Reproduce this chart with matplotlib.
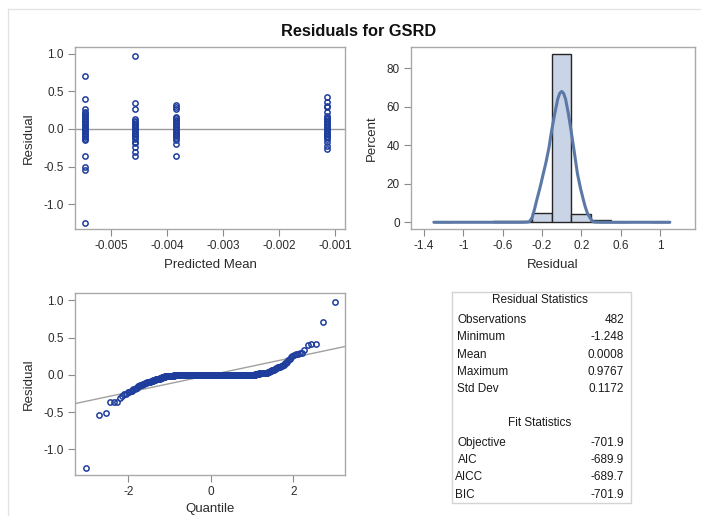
import numpy as np
import matplotlib
matplotlib.use("Agg")
import matplotlib.pyplot as plt
from statistics import NormalDist

plt.rcParams['font.family'] = ['Liberation Sans', 'DejaVu Sans']
plt.rcParams['axes.unicode_minus'] = False

# ---------------- data ----------------
title = "Residuals for GSRD"

# Panel 1: residual vs predicted mean (distinct visible residuals per group)
pred_means = [-0.00546, -0.00457, -0.00384, -0.00114]
resid_g1 = [0.71, 0.40, 0.27, 0.23, 0.21, 0.19, 0.17, 0.15, 0.13, 0.11, 0.09, 0.07,
            0.05, 0.03, 0.01, 0.0, -0.01, -0.03, -0.05, -0.07, -0.09, -0.11, -0.13,
            -0.15, -0.36, -0.51, -0.54, -1.248]
resid_g2 = [0.9767, 0.34, 0.26, 0.13, 0.11, 0.09, 0.07, 0.05, 0.03, 0.01, -0.01,
            -0.03, -0.05, -0.07, -0.09, -0.11, -0.13, -0.17, -0.19, -0.24, -0.30, -0.36]
resid_g3 = [0.32, 0.29, 0.27, 0.16, 0.14, 0.12, 0.10, 0.08, 0.06, 0.04, 0.02, 0.0,
            -0.02, -0.04, -0.06, -0.08, -0.10, -0.12, -0.14, -0.20, -0.36]
resid_g4 = [0.42, 0.36, 0.30, 0.29, 0.23, 0.17, 0.15, 0.13, 0.11, 0.09, 0.07, 0.05,
            0.03, 0.01, -0.01, -0.03, -0.05, -0.07, -0.09, -0.11, -0.13, -0.17,
            -0.22, -0.27]

# Panel 2: histogram (bin centres, percent) and density curve
hist_centers = [-1.2, -0.6, -0.4, -0.2, 0.0, 0.2, 0.4, 0.6, 1.0]
hist_percent = [0.2, 0.4, 0.6, 5.0, 87.5, 4.1, 1.0, 0.2, 0.2]
hist_width = 0.2
dens_x = [-1.3, -0.5, -0.40, -0.35, -0.327, -0.30, -0.287, -0.27, -0.253, -0.22,
          -0.186, -0.16, -0.13, -0.101, -0.07, -0.04, -0.02, 0.0, 0.02, 0.04, 0.07,
          0.095, 0.13, 0.16, 0.19, 0.221, 0.24, 0.262, 0.29, 0.316, 0.34, 0.40, 0.6, 1.1]
dens_y = [0.0, 0.0, 0.0, 0.1, 0.3, 2.5, 4.7, 8.0, 11.6, 18.0,
          25.4, 31.0, 38.5, 47.9, 56.5, 64.0, 67.0, 68.0, 67.0, 64.0, 56.0,
          47.9, 36.0, 25.4, 18.0, 11.6, 8.0, 4.7, 2.2, 0.3, 0.1, 0.0, 0.0, 0.0]

# Panel 3: sorted residual levels and their counts (Q-Q plot)
qq_levels = [-1.248, -0.54, -0.51, -0.36, -0.31, -0.28, -0.26, -0.25, -0.23, -0.21,
             -0.19, -0.17, -0.15, -0.13, -0.12, -0.11, -0.10, -0.09, -0.08, -0.07,
             -0.06, -0.05, -0.04, -0.03, -0.02, -0.01, 0.0, 0.01, 0.02, 0.03, 0.04,
             0.05, 0.06, 0.07, 0.08, 0.09, 0.10, 0.11, 0.12, 0.14, 0.16, 0.18, 0.20,
             0.22, 0.24, 0.26, 0.27, 0.28, 0.29, 0.30, 0.34, 0.40, 0.41, 0.42, 0.71,
             0.9767]
qq_counts = [1, 1, 1, 3, 1, 1, 1, 1, 2, 2,
             2, 2, 2, 3, 3, 3, 3, 3, 4, 4,
             4, 5, 5, 7, 10, 15, 325, 10, 9, 8, 4,
             3, 2, 2, 2, 2, 2, 2, 2, 2, 2, 1, 1,
             1, 1, 1, 1, 2, 1, 1, 1, 1, 1, 1, 1,
             1]

# Statistics table
resid_stat_names = ["Observations", "Minimum", "Mean", "Maximum", "Std Dev"]
resid_stat_values = ["482", "-1.248", "0.0008", "0.9767", "0.1172"]
fit_stat_names = ["Objective", "AIC", "AICC", "BIC"]
fit_stat_values = ["-701.9", "-689.9", "-689.7", "-701.9"]
resid_mean = 0.0008
resid_sd = 0.1172

# ---------------- style ----------------
W, H = 701, 516
DPI = 100
fig = plt.figure(figsize=(W / DPI, H / DPI), dpi=DPI)
fig.patch.set_facecolor('white')

MARK = '#1f3d9c'
FRAME = '#a9a9a9'
TXT = '#2b2b2b'
TICK_FS = 8.5
LAB_FS = 9.5


def px_axes(left, top, right, bottom):
    return fig.add_axes([left / W, 1 - bottom / H, (right - left) / W, (bottom - top) / H])


def style(ax):
    for s in ax.spines.values():
        s.set_color(FRAME)
        s.set_linewidth(1.0)
    ax.tick_params(direction='out', length=5, width=0.8, color='#8a8a8a',
                   labelsize=TICK_FS, labelcolor=TXT, pad=3)


# background frame of the whole graph
bg = fig.add_axes([0, 0, 1, 1], zorder=-5)
bg.set_xlim(0, W)
bg.set_ylim(H, 0)
bg.axis('off')
bg.plot([8, W], [9, 9], color='#e2e2e2', lw=0.9)
bg.plot([8, 8], [9, H], color='#e2e2e2', lw=0.9)

fig.text(359 / W, 1 - 31 / H, title, ha='center', va='center',
         fontsize=11.8, fontweight='bold', color='#111111')

# ---------------- panel 1 ----------------
ax1 = px_axes(75, 47, 345, 229)
style(ax1)
ax1.axhline(0, color='#9a9a9a', lw=1.0, zorder=1)
for xm, vals in zip(pred_means, [resid_g1, resid_g2, resid_g3, resid_g4]):
    ax1.plot([xm] * len(vals), vals, linestyle='none', marker='o', ms=3.8,
             mfc='none', mec=MARK, mew=1.1, zorder=3)
ax1.set_xlim(-0.00564, -0.00082)
ax1.set_ylim(-1.333, 1.093)
ax1.set_xticks([-0.005, -0.004, -0.003, -0.002, -0.001])
ax1.set_xticklabels(['-0.005', '-0.004', '-0.003', '-0.002', '-0.001'])
ax1.set_yticks([-1.0, -0.5, 0.0, 0.5, 1.0])
ax1.set_yticklabels(['-1.0', '-0.5', '0.0', '0.5', '1.0'])
ax1.set_xlabel('Predicted Mean', fontsize=LAB_FS, color=TXT, va='center')
ax1.set_ylabel('Residual', fontsize=LAB_FS, color=TXT, va='center')
ax1.xaxis.set_label_coords(0.5, -(265 - 229) / 182)
ax1.yaxis.set_label_coords(-(75 - 29) / 270, 0.5)

# ---------------- panel 2 ----------------
ax2 = px_axes(411, 47, 695, 229)
style(ax2)
ax2.bar(hist_centers, hist_percent, width=hist_width, color='#c9d4e6',
        edgecolor='#262626', linewidth=1.0, zorder=2)
ax2.plot(dens_x, dens_y, color='#5b79a6', lw=2.2, zorder=3, solid_capstyle='round')
ax2.set_xlim(-1.532, 1.356)
ax2.set_ylim(-3.5, 91.1)
xt = [-1.4, -1.0, -0.6, -0.2, 0.2, 0.6, 1.0]
ax2.set_xticks(xt)
ax2.set_xticklabels(['-1.4', '-1', '-0.6', '-0.2', '0.2', '0.6', '1'])
ax2.set_yticks([0, 20, 40, 60, 80])
ax2.set_xlabel('Residual', fontsize=LAB_FS, color=TXT, va='center')
ax2.set_ylabel('Percent', fontsize=LAB_FS, color=TXT, va='center')
ax2.xaxis.set_label_coords(0.5, -(265 - 229) / 182)
ax2.yaxis.set_label_coords(-(411 - 372) / 284, 0.5)

# ---------------- panel 3 ----------------
ax3 = px_axes(75, 293, 345, 475)
style(ax3)
resid_sorted = np.sort(np.repeat(np.array(qq_levels), np.array(qq_counts)))
n = len(resid_sorted)
nd = NormalDist()
quant = np.array([nd.inv_cdf((i - 0.375) / (n + 0.25)) for i in range(1, n + 1)])
ax3.axline((0, resid_mean), slope=resid_sd, color='#a0a0a0', lw=1.0, zorder=1)
ax3.plot(quant, resid_sorted, linestyle='none', marker='o', ms=3.8,
         mfc='none', mec=MARK, mew=1.1, zorder=3)
ax3.set_xlim(-3.29, 3.25)
ax3.set_ylim(-1.343, 1.10)
ax3.set_xticks([-2, 0, 2])
ax3.set_xticklabels(['-2', '0', '2'])
ax3.set_yticks([-1.0, -0.5, 0.0, 0.5, 1.0])
ax3.set_yticklabels(['-1.0', '-0.5', '0.0', '0.5', '1.0'])
ax3.set_xlabel('Quantile', fontsize=LAB_FS, color=TXT, va='center')
ax3.set_ylabel('Residual', fontsize=LAB_FS, color=TXT, va='center')
ax3.xaxis.set_label_coords(0.5, -(509 - 475) / 182)
ax3.yaxis.set_label_coords(-(75 - 29) / 270, 0.5)

# ---------------- statistics table ----------------
bx0, by0, bx1, by1 = 452, 292, 631, 503
bg.plot([bx0, bx1, bx1, bx0, bx0], [by0, by0, by1, by1, by0], color='#d4d4d4', lw=1.0)
TFS = 8.5
bg.text(540, 300, 'Residual Statistics', ha='center', va='center', fontsize=TFS, color='#1a1a1a')
row_y = [320, 337.5, 355, 372, 389]
for yy, nm, vv in zip(row_y, resid_stat_names, resid_stat_values):
    bg.text(457, yy, nm, ha='left', va='center', fontsize=TFS, color='#1a1a1a')
    bg.text(624, yy, vv, ha='right', va='center', fontsize=TFS, color='#1a1a1a')
bg.text(540, 423, 'Fit Statistics', ha='center', va='center', fontsize=TFS, color='#1a1a1a')
fit_y = [443, 460, 477.5, 494.5]
fit_x = [457, 458, 455, 455]
for yy, xx, nm, vv in zip(fit_y, fit_x, fit_stat_names, fit_stat_values):
    bg.text(xx, yy, nm, ha='left', va='center', fontsize=TFS, color='#1a1a1a')
    bg.text(624, yy, vv, ha='right', va='center', fontsize=TFS, color='#1a1a1a')

fig.savefig('out.png', dpi=DPI, facecolor='white')
